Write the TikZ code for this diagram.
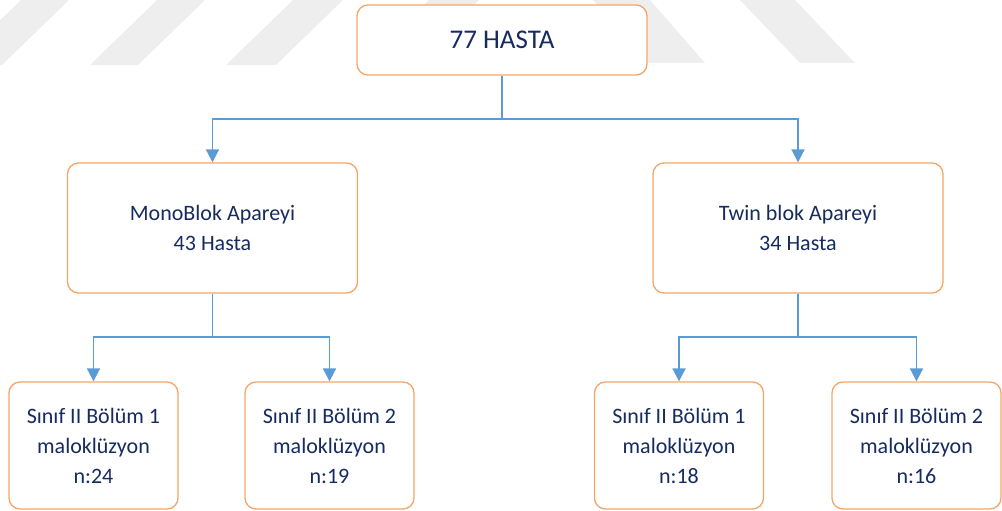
\documentclass[tikz,border=0pt]{standalone}
\usepackage{fontspec}
\setmainfont{Carlito}
\usetikzlibrary{arrows.meta}
\definecolor{boxline}{RGB}{244,166,104}
\definecolor{conn}{RGB}{91,155,213}
\definecolor{txt}{RGB}{22,43,95}
\definecolor{wm}{RGB}{238,238,238}
\tikzset{
  box/.style={draw=boxline, line width=1.3pt, rounded corners=11pt, fill=white,
    inner sep=0pt, align=center, text=txt, font=\fontsize{22}{30}\selectfont},
  topbox/.style={box, minimum width=290pt, minimum height=70pt, font=\fontsize{27}{32}\selectfont},
  midbox/.style={box, minimum width=290pt, minimum height=130pt},
  leafbox/.style={box, minimum width=169pt, minimum height=127pt},
  link/.style={draw=conn, line width=1.8pt},
  arrowlink/.style={link, -{Triangle[length=13pt,width=13pt]}},
  wmark/.style={fill=wm, draw=none}
}
\begin{document}
\begin{tikzpicture}[x=1pt,y=-1pt]
\useasboundingbox (0,0) rectangle (1002,511);
% faint watermark stripes
\begin{scope}
\clip (0,0) rectangle (1002,511);
\fill[wmark] (21,0) -- (69,0) -- (2,65) -- (-46,65) -- cycle;
\fill[wmark] (157,0) -- (205,0) -- (138,65) -- (90,65) -- cycle;
\fill[wmark] (293,0) -- (343,0) -- (276,65) -- (226,65) -- cycle;
\fill[wmark] (429,0) -- (479,0) -- (412,65) -- (362,65) -- cycle;
\fill[wmark] (593,0) -- (650,0) -- (705,63) -- (648,63) -- cycle;
\fill[wmark] (740,0) -- (795,0) -- (855,63) -- (800,63) -- cycle;
\end{scope}
% nodes
\node[topbox] (top) at (502,40) {77 HASTA};
\node[midbox] (mono) at (212.5,228) {MonoBlok Apareyi\\43 Hasta};
\node[midbox] (twin) at (798,228) {Twin blok Apareyi\\34 Hasta};
\node[leafbox] (m1) at (93.5,445.5) {Sınıf II Bölüm 1\\maloklüzyon\\n:24};
\node[leafbox] (m2) at (329.5,445.5) {Sınıf II Bölüm 2\\maloklüzyon\\n:19};
\node[leafbox] (t1) at (679,445.5) {Sınıf II Bölüm 1\\maloklüzyon\\n:18};
\node[leafbox] (t2) at (916.5,445.5) {Sınıf II Bölüm 2\\maloklüzyon\\n:16};
% junction coordinates
\coordinate (j0) at (502,119);
\coordinate (jm) at (212.5,337);
\coordinate (jt) at (798,337);
% connectors
\draw[link] (top.south) -- (j0);
\draw[arrowlink] (j0) -| (mono.north);
\draw[arrowlink] (j0) -| (twin.north);
\draw[link] (mono.south) -- (jm);
\draw[arrowlink] (jm) -| (m1.north);
\draw[arrowlink] (jm) -| (m2.north);
\draw[link] (twin.south) -- (jt);
\draw[arrowlink] (jt) -| (t1.north);
\draw[arrowlink] (jt) -| (t2.north);
\end{tikzpicture}
\end{document}
